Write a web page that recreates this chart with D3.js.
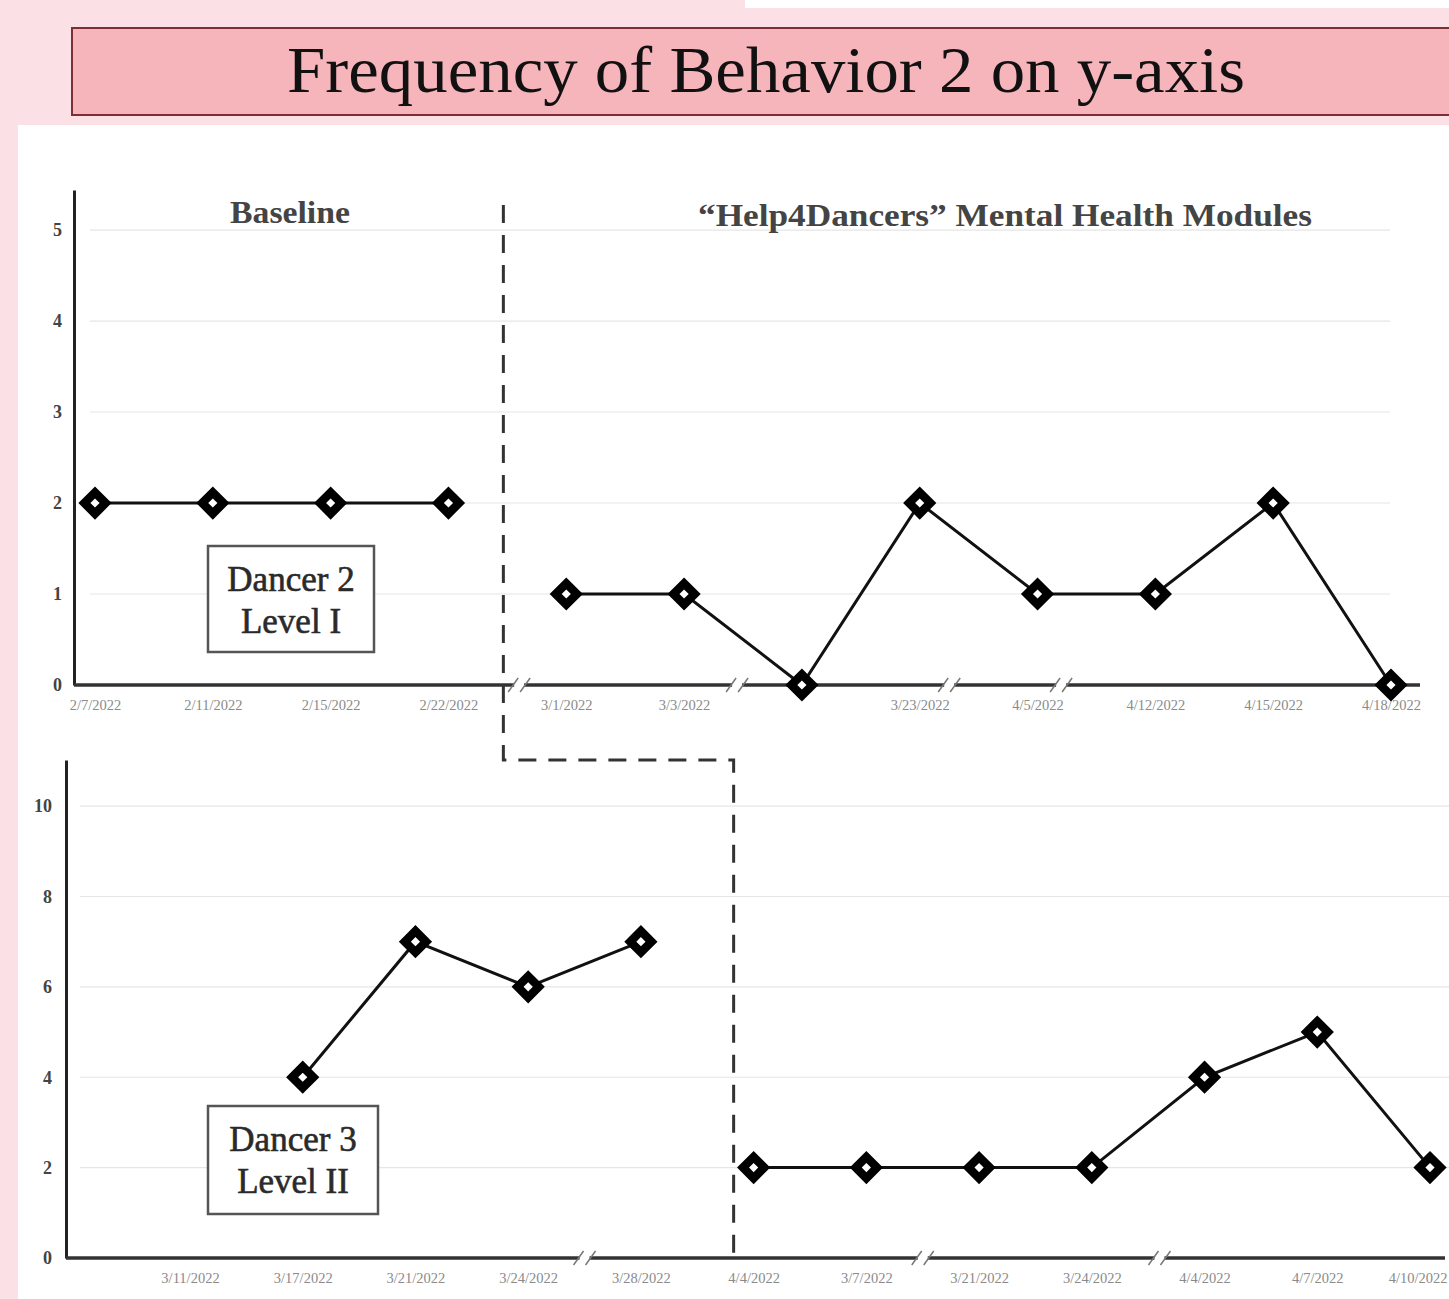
<!DOCTYPE html>
<html><head><meta charset="utf-8">
<script src="https://cdn.jsdelivr.net/npm/d3@7"></script>
<style>
html,body{margin:0;padding:0;background:#fbe1e5;}
svg{display:block;}
</style></head>
<body>
<svg id="chart" width="1449" height="1299"></svg>
<script>
// ---------- DATA ----------
const titleText = "Frequency of Behavior 2 on y-axis";
const phaseLabels = ["Baseline", "\u201CHelp4Dancers\u201D Mental Health Modules"];

const topDates = ["2/7/2022","2/11/2022","2/15/2022","2/22/2022","3/1/2022","3/3/2022","",
                  "3/23/2022","4/5/2022","4/12/2022","4/15/2022","4/18/2022"];
const topBaseline = [2, 2, 2, 2];
const topIntervention = [1, 1, 0, 2, 1, 1, 2, 0];
const topYTicks = [0, 1, 2, 3, 4, 5];
const topBreaksAfter = [3.6, 5.45, 7.25, 8.2];
const topLabel = ["Dancer 2", "Level I"];

const botDates = ["3/11/2022","3/17/2022","3/21/2022","3/24/2022","3/28/2022","4/4/2022",
                  "3/7/2022","3/21/2022","3/24/2022","4/4/2022","4/7/2022","4/10/2022"];
const botBaseline = [null, 4, 7, 6, 7];
const botIntervention = [2, 2, 2, 2, 4, 5, 2];
const botYTicks = [0, 2, 4, 6, 8, 10];
const botBreaksAfter = [3.5, 6.5, 8.6];
const botLabel = ["Dancer 3", "Level II"];

// ---------- DRAW ----------
const svg = d3.select("#chart");
const serif = "'Liberation Serif','DejaVu Serif',serif";

// backgrounds
svg.append("rect").attr("x",0).attr("y",0).attr("width",1449).attr("height",1299).attr("fill","#fbe1e5");
svg.append("rect").attr("x",745).attr("y",0).attr("width",704).attr("height",8).attr("fill","#ffffff");
svg.append("rect").attr("x",18).attr("y",125).attr("width",1431).attr("height",1174).attr("fill","#ffffff");

// title
svg.append("rect").attr("x",72).attr("y",28).attr("width",1400).attr("height",87)
  .attr("fill","#f6b5bb").attr("stroke","#7e2f36").attr("stroke-width",2);
svg.append("text").attr("x",766).attr("y",92).attr("text-anchor","middle")
  .attr("font-family",serif).attr("font-size",66).attr("fill","#111")
  .attr("textLength",958).attr("lengthAdjust","spacingAndGlyphs")
  .text(titleText);

function panel(cfg){
  const g = svg.append("g");
  const n = cfg.dates.length;
  const x = d3.scalePoint().domain(d3.range(n)).range(cfg.xRange);
  const y = d3.scaleLinear().domain(cfg.yDomain).range(cfg.yRange);

  // gridlines
  g.append("g").selectAll("line").data(cfg.yTicks.filter(d=>d>0)).join("line")
    .attr("x1",cfg.gridX[0]).attr("x2",cfg.gridX[1])
    .attr("y1",d=>y(d)).attr("y2",d=>y(d))
    .attr("stroke","#e6e6e6").attr("stroke-width",1.2);

  // y axis
  const ya = g.append("g").attr("transform",`translate(${cfg.axisX},0)`)
    .call(d3.axisLeft(y).tickValues(cfg.yTicks).tickSize(0).tickPadding(cfg.yPad).tickFormat(d3.format("d")));
  ya.select(".domain").attr("stroke","#222").attr("stroke-width",3);
  ya.selectAll("text").attr("font-family",serif).attr("font-weight","bold")
    .attr("font-size",18).attr("fill","#444");

  // x axis line
  const y0 = y(0);
  g.append("line").attr("x1",cfg.axisX).attr("x2",cfg.axisEnd).attr("y1",y0).attr("y2",y0)
    .attr("stroke","#333").attr("stroke-width",3.5);
  const xa = g.append("g").attr("transform",`translate(0,${y0})`)
    .call(d3.axisBottom(x).tickSize(0).tickPadding(15).tickFormat(i=>cfg.dates[i]));
  xa.select(".domain").remove();
  xa.selectAll("text").attr("font-family",serif).attr("font-size",14.5).attr("fill","#8a8a8a");
  // keep the last label inside the picture
  xa.selectAll(".tick").filter(i=>x(i)+35>1449).select("text")
    .attr("text-anchor","end").attr("x",1447-x(n-1));

  // axis breaks
  const step = x.step();
  cfg.breaks.forEach(b=>{
    const bx = x(0) + b*step;
    g.append("rect").attr("x",bx-5).attr("y",y0-3).attr("width",10).attr("height",6).attr("fill","#fff");
    [-6,6].forEach(o=>{
      g.append("line").attr("x1",bx+o-5).attr("y1",y0+7).attr("x2",bx+o+5).attr("y2",y0-7)
        .attr("stroke","#777").attr("stroke-width",1.5);
    });
  });

  // series
  const line = d3.line().defined(d=>d.v!=null).x(d=>x(d.i)).y(d=>y(d.v));
  const base = cfg.baseline.map((v,i)=>({i, v}));
  const intv = cfg.intervention.map((v,i)=>({i: i+cfg.baseline.length, v}));
  [base, intv].forEach(s=>{
    g.append("path").datum(s).attr("d",line).attr("fill","none")
      .attr("stroke","#111").attr("stroke-width",3);
  });
  const sq = d3.symbol().type(d3.symbolSquare).size(225);
  g.append("g").selectAll("path").data(base.concat(intv).filter(d=>d.v!=null)).join("path")
    .attr("d",sq).attr("transform",d=>`translate(${x(d.i)},${y(d.v)}) rotate(45)`)
    .attr("fill","#fff").attr("stroke","#000").attr("stroke-width",8.5);

  // label box
  g.append("rect").attr("x",cfg.box[0]).attr("y",cfg.box[1]).attr("width",cfg.box[2]).attr("height",cfg.box[3])
    .attr("fill","#fff").attr("stroke","#555").attr("stroke-width",2.5);
  cfg.label.forEach((t,k)=>{
    g.append("text").attr("x",cfg.box[0]+cfg.box[2]/2).attr("y",cfg.box[1]+45+k*42)
      .attr("text-anchor","middle").attr("font-family",serif).attr("font-size",35)
      .attr("fill","#2a2a2a").attr("stroke","#2a2a2a").attr("stroke-width",0.6).text(t);
  });
  return {x, y};
}

const topPanel = panel({
  dates: topDates, baseline: topBaseline, intervention: topIntervention,
  yTicks: topYTicks, breaks: topBreaksAfter, label: topLabel,
  xRange: [95, 1391], yDomain: [0, 5.44], yRange: [685, 190],
  axisX: 74, axisEnd: 1420, gridX: [90, 1390], yPad: 12,
  box: [208, 546, 166, 106]
});
const botPanel = panel({
  dates: botDates, baseline: botBaseline, intervention: botIntervention,
  yTicks: botYTicks, breaks: botBreaksAfter, label: botLabel,
  xRange: [190, 1430], yDomain: [0, 11.02], yRange: [1258, 760],
  axisX: 66, axisEnd: 1445, gridX: [80, 1449], yPad: 14,
  box: [208, 1106, 170, 108]
});

// phase labels
svg.append("text").attr("x",290).attr("y",223).attr("text-anchor","middle")
  .attr("font-family",serif).attr("font-weight","bold").attr("font-size",31).attr("fill","#444")
  .attr("textLength",120).attr("lengthAdjust","spacingAndGlyphs")
  .text(phaseLabels[0]);
svg.append("text").attr("x",1005).attr("y",226).attr("text-anchor","middle")
  .attr("font-family",serif).attr("font-weight","bold").attr("font-size",31).attr("fill","#444")
  .attr("textLength",614).attr("lengthAdjust","spacingAndGlyphs")
  .text(phaseLabels[1]);

// phase change dashed line
const dx1 = (topPanel.x(topBaseline.length-1) + topPanel.x(topBaseline.length))/2 - 4;
const dx2 = botPanel.x(botBaseline.length) - 20;
const yMid = 760;
svg.append("path")
  .attr("d",`M${dx1},205 V${yMid} H${dx2} V${botPanel.y(0)}`)
  .attr("fill","none").attr("stroke","#333").attr("stroke-width",3)
  .attr("stroke-dasharray","18,12");
</script>
</body></html>
